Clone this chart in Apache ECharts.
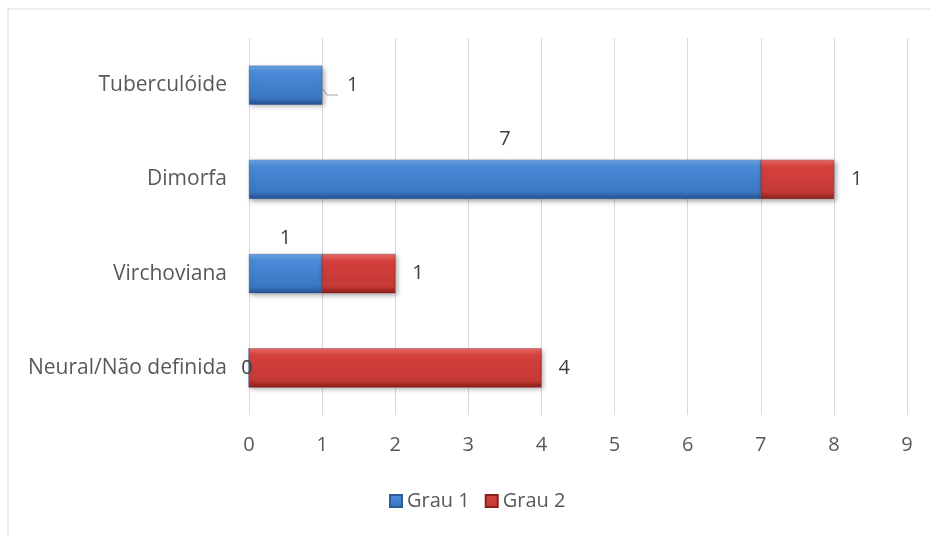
<!DOCTYPE html>
<html><head><meta charset="utf-8">
<script src="https://cdn.jsdelivr.net/npm/echarts@6/dist/echarts.min.js"></script>
<style>html,body{margin:0;padding:0;background:#fff}#c{width:930px;height:535px}</style>
</head><body><div id="c"></div>
<script>
const categories = ['Neural/Não definida', 'Virchoviana', 'Dimorfa', 'Tuberculóide'];
const grau1 = [0, 1, 7, 1];
const grau2 = [4, 1, 1, null];
const seriesNames = ['Grau 1', 'Grau 2'];
const xTicks = [0, 1, 2, 3, 4, 5, 6, 7, 8, 9];

const blue = new echarts.graphic.LinearGradient(0,0,0,1,[
  {offset:0,color:'#6aa8ea'},{offset:0.18,color:'#4a8ad6'},{offset:0.82,color:'#3b78c4'},{offset:1,color:'#25528c'}]);
const red = new echarts.graphic.LinearGradient(0,0,0,1,[
  {offset:0,color:'#ee6e6a'},{offset:0.18,color:'#d5403c'},{offset:0.82,color:'#c53a36'},{offset:1,color:'#8c1f1c'}]);
const font = '"Open Sans", sans-serif';
const fs = 20;
const g1Pos = ['left','top','top','right'];
const g1Dist = [-4, 6, 11, 25];

const chart = echarts.init(document.getElementById('c'));
chart.setOption({
  animation:false,
  textStyle:{fontFamily:font},
  grid:{left:249, right:23, top:38, bottom:120},
  xAxis:{type:'value', min:0, max:9, interval:1,
    axisLine:{show:false}, axisTick:{show:false},
    axisLabel:{color:'#595959', fontSize:fs, margin:20, fontFamily:font, formatter:v=>String(xTicks[v])},
    splitLine:{lineStyle:{color:'#d9d9d9', width:1}}},
  yAxis:{type:'category', data:categories,
    axisLine:{show:false}, axisTick:{show:false},
    axisLabel:{color:'#595959', fontSize:21, margin:22, fontFamily:font}},
  legend:{bottom:19, left:384, itemWidth:12, itemHeight:12, itemGap:15,
    textStyle:{color:'#595959', fontSize:fs, fontFamily:font},
    data:[{name:seriesNames[0], icon:'rect'},{name:seriesNames[1], icon:'rect'}]},
  series:[
    {name:seriesNames[0], type:'bar', stack:'s', barWidth:39,
     itemStyle:{color:blue, borderColor:'#2b5d99', borderWidth:0.5, shadowColor:'rgba(0,0,0,0.35)', shadowBlur:5, shadowOffsetX:2, shadowOffsetY:2},
     data:grau1.map((v,i)=>({value:v, label:{show:true, position:g1Pos[i], distance:g1Dist[i]}})),
     label:{color:'#404040', fontSize:fs, fontFamily:font}
    },
    {name:seriesNames[1], type:'bar', stack:'s', barWidth:39,
     itemStyle:{color:red, borderColor:'#8c1f1c', borderWidth:0.5, shadowColor:'rgba(0,0,0,0.35)', shadowBlur:5, shadowOffsetX:2, shadowOffsetY:2},
     data:grau2,
     label:{show:true, position:'right', distance:17, color:'#404040', fontSize:fs, fontFamily:font}
    }
  ],
  color:['#3b78c4','#c53a36'],
  graphic:[
    {type:'polyline', shape:{points:[[8,535],[8,9],[930,9]]}, style:{stroke:'#d9d9d9', lineWidth:1, fill:null}, silent:true},
    {type:'polyline', shape:{points:[[323,89],[327,95],[338,95]]}, style:{stroke:'#a6a6a6', lineWidth:1, fill:null}, silent:true}
  ]
});
</script></body></html>
